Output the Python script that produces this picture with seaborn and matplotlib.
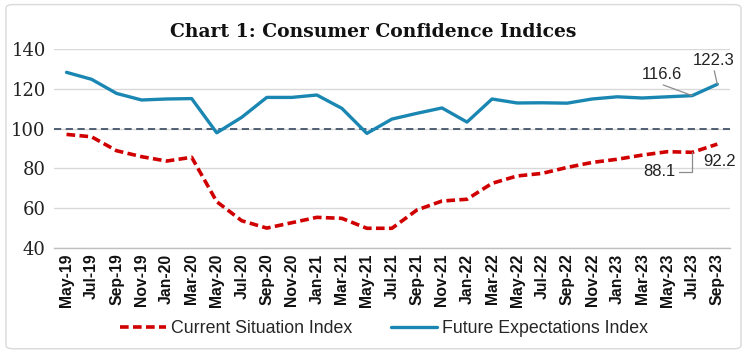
import matplotlib
matplotlib.use("Agg")
import matplotlib.pyplot as plt
import seaborn as sns
import pandas as pd
from matplotlib.patches import FancyBboxPatch

months = ["May-19", "Jul-19", "Sep-19", "Nov-19", "Jan-20", "Mar-20", "May-20", "Jul-20",
          "Sep-20", "Nov-20", "Jan-21", "Mar-21", "May-21", "Jul-21", "Sep-21", "Nov-21",
          "Jan-22", "Mar-22", "May-22", "Jul-22", "Sep-22", "Nov-22", "Jan-23", "Mar-23",
          "May-23", "Jul-23", "Sep-23"]
current_situation = [97.1, 95.9, 88.9, 85.9, 83.7, 85.6, 63.3, 53.7, 50.0, 52.7, 55.4, 54.9,
                     49.9, 49.9, 59.1, 63.6, 64.5, 72.5, 76.2, 77.5, 80.5, 83.0, 84.6, 86.7,
                     88.4, 88.1, 92.2]
future_expectations = [128.3, 124.8, 117.7, 114.4, 114.9, 115.1, 97.9, 105.7, 115.7, 115.7,
                       116.9, 110.2, 97.6, 104.8, 107.7, 110.4, 103.3, 114.9, 112.9, 113.0,
                       112.8, 114.9, 116.0, 115.4, 116.0, 116.6, 122.3]

BLUE = "#1a87b3"
RED = "#d00000"

sns.set_theme(style="white")
plt.rcParams["font.family"] = ["Liberation Sans", "DejaVu Sans"]

df = pd.DataFrame({"idx": range(len(months)), "month": months,
                   "Current Situation Index": current_situation,
                   "Future Expectations Index": future_expectations})

fig = plt.figure(figsize=(7.47, 3.53), dpi=100)
fig.patches.append(FancyBboxPatch((0.008, 0.012), 0.984, 0.975, boxstyle="round,pad=0,rounding_size=0.01",
                                  transform=fig.transFigure, fill=False, edgecolor="#d9d9d9", lw=1.0))
ax = fig.add_axes([0.0723, 0.2975, 0.9047, 0.5635])

ax.axhline(100, color="#44546a", lw=1.3, ls=(0, (4, 2.5)), zorder=2)
sns.lineplot(data=df, x="idx", y="Current Situation Index", ax=ax, color=RED, lw=2.6,
             linestyle=(0, (2.4, 1.2)), label="Current Situation Index", zorder=3)
sns.lineplot(data=df, x="idx", y="Future Expectations Index", ax=ax, color=BLUE, lw=2.4,
             label="Future Expectations Index", zorder=3)

ax.set_xlim(-0.5, len(months) - 0.5)
ax.set_ylim(40, 140)
ax.set_yticks(range(40, 141, 20))
ax.set_yticklabels([str(v) for v in range(40, 141, 20)], family="DejaVu Serif", fontsize=13, color="#222222")
ax.set_xticks(range(len(months)))
ax.set_xticklabels(months, rotation=90, fontsize=11.3, fontweight="bold", color="#111111")
ax.set_xticks([i - 0.5 for i in range(len(months) + 1)], minor=True)
ax.tick_params(axis="x", which="major", length=0, pad=4)
ax.tick_params(axis="x", which="minor", length=5, color="#bfbfbf", width=1, direction="out")
ax.tick_params(axis="y", length=0, pad=6)
ax.yaxis.grid(True, color="#d9d9d9", lw=1)
ax.set_axisbelow(True)
for s in ["top", "right", "left"]:
    ax.spines[s].set_visible(False)
ax.spines["bottom"].set_color("#bfbfbf")
ax.spines["bottom"].set_linewidth(1)
ax.set_xlabel("")
ax.set_ylabel("")

fig.text(0.5, 0.91, "Chart 1: Consumer Confidence Indices", ha="center", va="center",
         family="DejaVu Serif", fontweight="bold", fontsize=13.5, color="#111111")

ann_kw = dict(fontsize=12, color="#222222", ha="center", va="center")
line_kw = dict(arrowstyle="-", color="#8c8c8c", lw=0.9, shrinkA=0, shrinkB=0)
ax.annotate(f"{future_expectations[25]}", xy=(25, future_expectations[25]), xytext=(23.8, 127.4),
            arrowprops=dict(**line_kw, relpos=(0.3, 0)), **ann_kw)
ax.annotate(f"{future_expectations[26]}", xy=(26, future_expectations[26]), xytext=(25.85, 134.5),
            arrowprops=dict(**line_kw, relpos=(0.5, 0)), **ann_kw)
ax.annotate(f"{current_situation[25]}", xy=(25, current_situation[25]), xytext=(23.7, 78.2),
            arrowprops=dict(**line_kw, relpos=(1, 0.5), connectionstyle="angle,angleA=0,angleB=90,rad=0"), **ann_kw)
ax.annotate(f"{current_situation[26]}", xy=(26, current_situation[26]), xytext=(26.1, 83.7), **ann_kw)

ax.get_legend().remove()
handles, labels = ax.get_legend_handles_labels()
fig.legend(handles, labels, loc="center", bbox_to_anchor=(0.514, 0.07), ncol=2, frameon=False,
           fontsize=12.8, handlelength=2.6, columnspacing=2.2, handletextpad=0.25)

fig.savefig("out.png", dpi=100)
